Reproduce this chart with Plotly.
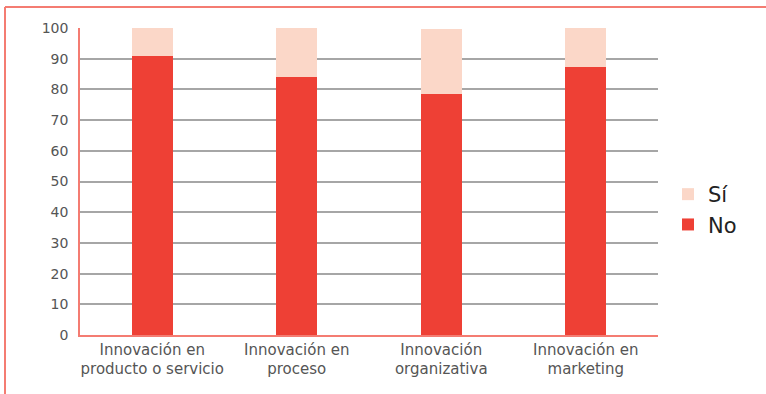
import plotly.graph_objects as go

categories = ["Innovación en<br>producto o servicio", "Innovación en<br>proceso",
              "Innovación<br>organizativa", "Innovación en<br>marketing"]
no_values = [91.0, 84.2, 78.6, 87.4]
si_values = [9.0, 15.8, 21.2, 12.6]
y_ticks = [0, 10, 20, 30, 40, 50, 60, 70, 80, 90, 100]

W, H = 766, 394
ML, MR, MT, MB = 80, 108, 28, 59
pw, ph = W - ML - MR, H - MT - MB

def px_x(x):
    return (x - ML) / pw

def px_y(y):
    return (H - MB - y) / ph

FONT = "'DejaVu Sans', sans-serif"
SALMON = "#f47c72"

fig = go.Figure()
fig.add_trace(go.Bar(x=categories, y=no_values, name="No",
                     marker=dict(color="#ee4035", line=dict(width=0)), width=0.285))
fig.add_trace(go.Bar(x=categories, y=si_values, name="Sí",
                     marker=dict(color="#fbd7c8", line=dict(width=0)), width=0.285))

# outer frame: left and top edges
fig.add_shape(type="line", xref="paper", yref="paper",
              x0=px_x(5), x1=px_x(5), y0=px_y(7), y1=px_y(H),
              line=dict(color=SALMON, width=2))
fig.add_shape(type="line", xref="paper", yref="paper",
              x0=px_x(5), x1=px_x(W), y0=px_y(7), y1=px_y(7),
              line=dict(color=SALMON, width=2))

fig.update_layout(
    width=W, height=H,
    margin=dict(l=ML, r=MR, t=MT, b=MB),
    barmode="stack",
    plot_bgcolor="white", paper_bgcolor="white",
    font=dict(family=FONT, color="#555555"),
    showlegend=True,
    legend=dict(traceorder="reversed", x=px_x(668), y=px_y(174), xanchor="left", yanchor="top",
                font=dict(size=21, color="#222222"), itemwidth=30, tracegroupgap=0,
                bgcolor="rgba(0,0,0,0)"),
    xaxis=dict(showline=True, linecolor=SALMON, linewidth=1.5, ticks="",
               tickfont=dict(size=15, color="#555555"), showgrid=False),
    yaxis=dict(range=[0, 100], tickvals=y_ticks, showline=True, linecolor=SALMON, linewidth=1.5,
               showgrid=True, gridcolor="#a6a6a6", gridwidth=1.5, zeroline=False,
               ticks="", ticklabelstandoff=7, tickfont=dict(size=14, color="#555555")),
    bargap=0.7,
)

fig.write_html("out.html")
